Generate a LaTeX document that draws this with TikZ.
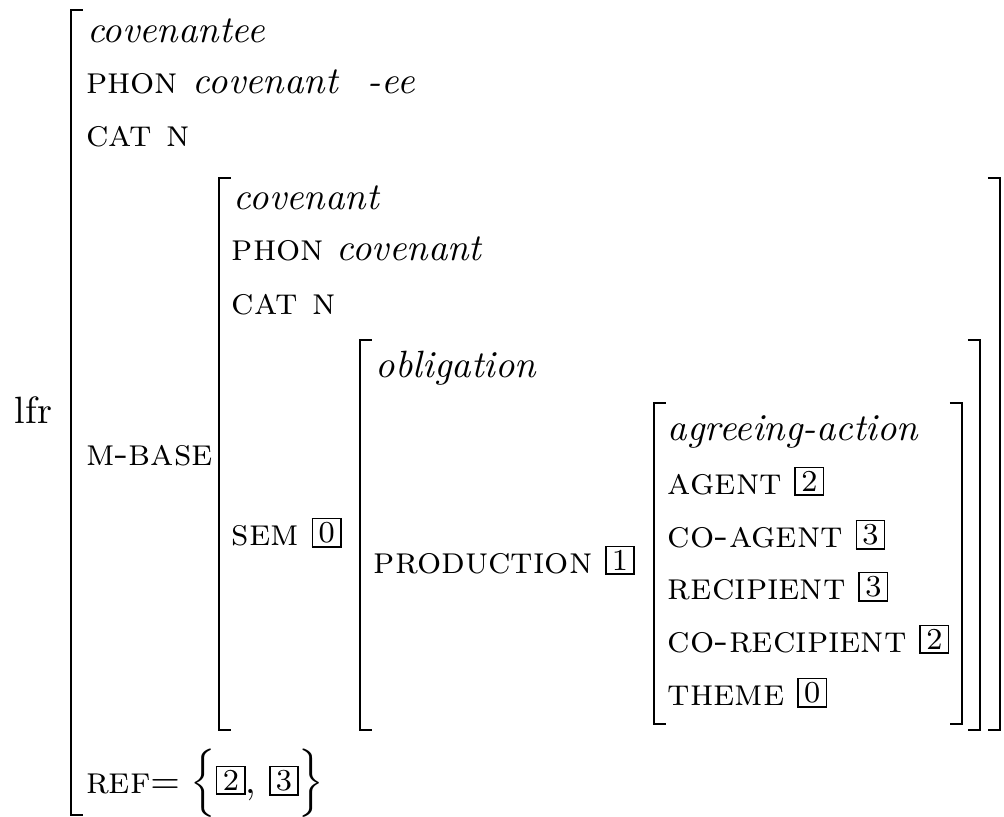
\documentclass[tikz,border=0pt]{standalone}
\usepackage{amsmath}
\newcommand\tg[1]{{\setlength\fboxsep{0.8pt}\setlength\fboxrule{0.4pt}\raisebox{0.7pt}{\fbox{\kern0.6pt\footnotesize #1\kern0.6pt}}}}
\newcommand\at[1]{\textsc{#1}}
\begin{document}
\begin{tikzpicture}[x=0.263pt,y=-0.263pt,
  txt/.style={anchor=base west,inner sep=0pt,outer sep=0pt},
  brk/.style={line width=0.55pt,line cap=butt,line join=miter}]
\useasboundingbox (0,0) rectangle (1004,817);
% labels
\node[txt] (lfr) at (15,423) {lfr};
% outer level
\node[txt] (t1) at (87,42) {\textit{covenantee}};
\node[txt] (p1) at (86,93) {\at{phon}};
\node[txt] (p1v) at (193,93) {\textit{covenant}};
\node[txt] (p1s) at (368,93) {\textit{-ee}};
\node[txt] (c1) at (86,146) {\at{cat n}};
\node[txt] (mb) at (86,465) {\at{m-base}};
\node[txt] (ref) at (86,793) {\at{ref}$=\Big\{$\tg{2}, \tg{3}$\Big\}$};
% m-base level
\node[txt] (t2) at (234,209) {\textit{covenant}};
\node[txt] (p2) at (232,260) {\at{phon} \textit{covenant}};
\node[txt] (c2) at (232,314) {\at{cat n}};
\node[txt] (sem) at (232,545) {\at{sem} \tg{0}};
% sem level
\node[txt] (t3) at (376,377) {\textit{obligation}};
\node[txt] (prod) at (374,573) {\at{production} \tg{1}};
% production level
\node[txt] (t4) at (668,440) {\textit{agreeing-action}};
\node[txt] (ag) at (668,494) {\at{agent} \tg{2}};
\node[txt] (coag) at (668,547) {\at{co-agent} \tg{3}};
\node[txt] (rec) at (668,599) {\at{recipient} \tg{3}};
\node[txt] (corec) at (668,652) {\at{co-recipient} \tg{2}};
\node[txt] (th) at (668,705) {\at{theme} \tg{0}};
% brackets
\draw[brk] (83,10) -- (71,10) -- (71,815) -- (83,815);
\draw[brk] (231,178) -- (219,178) -- (219,730) -- (231,730);
\draw[brk] (988,178) -- (1000,178) -- (1000,730) -- (988,730);
\draw[brk] (372,340) -- (360,340) -- (360,730) -- (372,730);
\draw[brk] (968,340) -- (980,340) -- (980,730) -- (968,730);
\draw[brk] (666,403) -- (654,403) -- (654,724) -- (666,724);
\draw[brk] (950,403) -- (962,403) -- (962,724) -- (950,724);
\end{tikzpicture}
\end{document}
